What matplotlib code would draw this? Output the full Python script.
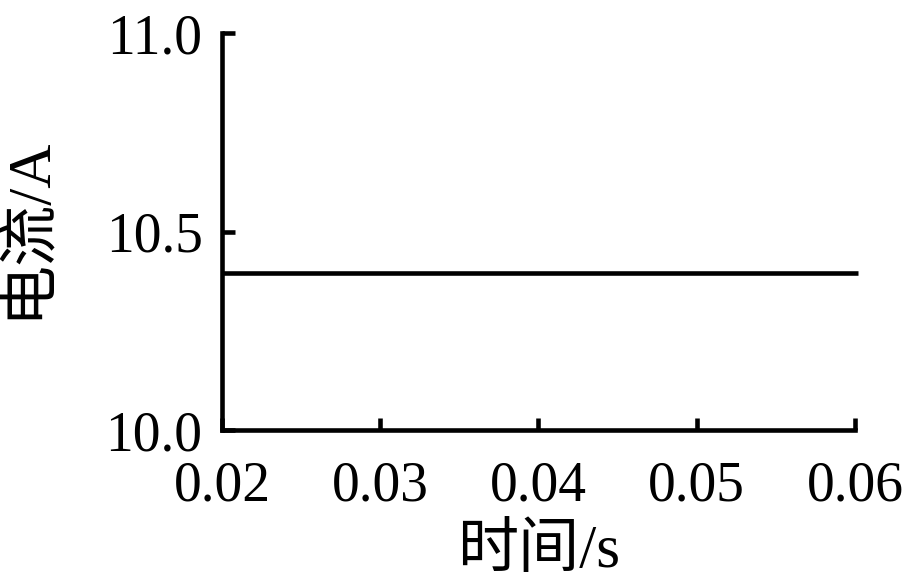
import numpy as np
import matplotlib.pyplot as plt

plt.rcParams['font.family'] = ['Liberation Serif', 'Noto Sans CJK SC']

# data: constant current over time
t = [0.02, 0.0602]
current = [10.395, 10.395]
xticks = [0.02, 0.03, 0.04, 0.05, 0.06]
yticks = [10.0, 10.5, 11.0]

fig = plt.figure(figsize=(9.15, 5.79), dpi=100)
ax = fig.add_axes([0.2426, 0.2573, 0.9344 - 0.2426, 0.943 - 0.2573])

ax.plot(t, current, color='black', lw=3.3, solid_capstyle='butt', clip_on=False)

ax.set_xlim(0.02, 0.06)
ax.set_ylim(10.0, 11.0)
ax.set_xticks(xticks)
ax.set_xticklabels(['%.2f' % v for v in xticks])
ax.set_yticks(yticks)
ax.set_yticklabels(['%.1f' % v for v in yticks])

for s in ['top', 'right']:
    ax.spines[s].set_visible(False)
for s in ['left', 'bottom']:
    ax.spines[s].set_linewidth(3.3)

ax.tick_params(direction='in', length=9, width=3.3, labelsize=40, pad=14)
ax.tick_params(axis='x', pad=22)

ax.set_xlabel('时间/s', fontsize=44, labelpad=8)
ax.set_ylabel('电流/A', fontsize=44)
ax.yaxis.set_label_coords(-0.262, 0.51)

fig.savefig('out.png', dpi=100)
